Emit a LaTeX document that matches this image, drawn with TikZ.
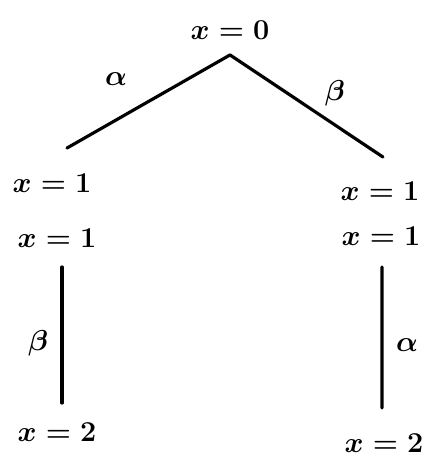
\documentclass[tikz,border=0pt]{standalone}
\usetikzlibrary{positioning}

\tikzset{
  state/.style={inner sep=2pt, font=\LARGE\boldmath},
  branch/.style={line width=1.9pt, line cap=round},
  blabel/.style={font=\LARGE\boldmath, inner sep=0pt, midway}
}

\begin{document}
\begin{tikzpicture}[x=0.6pt, y=0.6pt]
\useasboundingbox (0,0) rectangle (425,-463);
% states
\node[state] (root) at (230,-30) {$x=0$};
\node[state] (la) at (52,-183) {$x=1$};
\node[state] (lb) at (57,-238) {$x=1$};
\node[state] (lc) at (57,-432) {$x=2$};
\node[state] (ra) at (380,-191) {$x=1$};
\node[state] (rb) at (381,-236) {$x=1$};
\node[state] (rc) at (384,-443) {$x=2$};
% branches
\draw[branch] ([yshift=-7.2pt]root.south) -- node[blabel, xshift=-19.5pt, yshift=13.5pt] {$\alpha$}
  ([xshift=9pt, yshift=13.2pt]la.north);
\draw[branch] ([yshift=-7.2pt]root.south) -- node[blabel, xshift=17pt, yshift=7.5pt] {$\beta$}
  ([xshift=1.8pt, yshift=12.6pt]ra.north);
\draw[branch] ([xshift=3pt, yshift=-9.6pt]lb.south) -- node[blabel, xshift=-14.4pt, yshift=-4.8pt] {$\beta$}
  ([xshift=3pt, yshift=9.6pt]lc.north);
\draw[branch] ([xshift=0.6pt, yshift=-10.8pt]rb.south) -- node[blabel, xshift=15pt, yshift=-4.5pt] {$\alpha$}
  ([xshift=-1.2pt, yshift=13.2pt]rc.north);
\end{tikzpicture}
\end{document}
